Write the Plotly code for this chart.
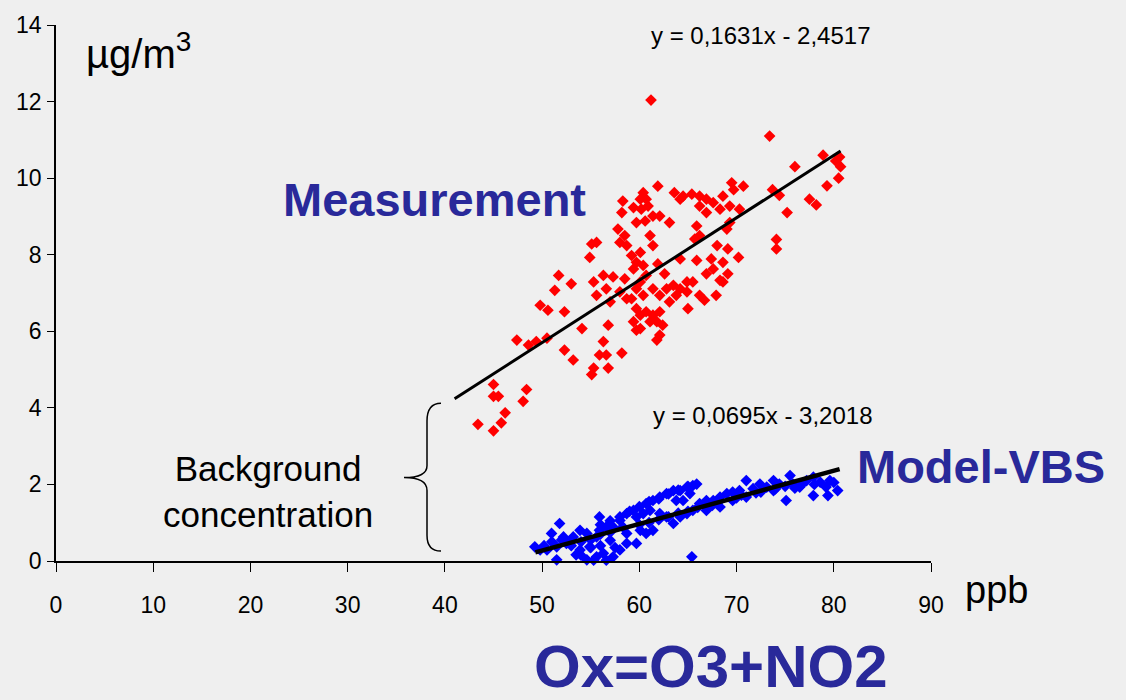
import plotly.graph_objects as go

# ---------------- data ----------------
meas_x = [61.2, 73.4, 78.9, 80.6, 80.7, 80.5, 80.2, 76.0, 79.3, 77.5, 78.2, 75.2, 74.1, 74.1, 73.7, 74.4,
          63.6, 64.5, 65.4, 66.2, 66.9, 67.6, 68.6, 69.5, 69.7, 70.7, 68.3, 66.9, 66.2, 69.3, 70.3, 64.2,
          61.9, 60.4, 60.1, 60.7, 60.9, 60.2, 59.4, 58.3, 58.2, 59.7, 60.6, 61.4, 62.1, 63.1,
          57.8, 58.5, 58.0, 58.7, 61.1, 61.4, 65.9, 66.2, 65.7, 69.0, 69.3, 68.0, 69.1, 70.2, 68.6,
          55.1, 55.6, 54.9, 59.2, 60.1, 59.7, 60.4, 59.4, 60.7, 60.1,
          61.9, 62.6, 64.2, 65.9, 67.4, 67.6, 66.9, 68.6, 69.1, 68.3,
          51.7, 53.0, 51.3, 55.3, 56.3, 57.3, 58.5, 56.6, 55.6, 57.0, 58.0, 58.7,
          59.7, 60.4, 61.4, 62.1, 62.8, 63.5, 64.2, 64.9, 65.5, 63.8, 63.1, 64.9, 66.2,
          66.7, 67.9, 65.0,
          59.2, 59.7, 60.1, 60.7, 61.4, 62.1, 61.8, 62.4, 59.4, 60.1, 61.1, 62.1, 61.8, 59.7,
          49.8, 50.6, 52.3, 54.1, 56.8, 56.3, 56.6, 55.9, 55.3, 55.1, 56.8, 58.2, 52.3, 53.2,
          47.4, 48.6, 49.4, 50.5,
          45.0, 45.0, 45.5, 48.4, 48.05, 46.2, 45.8, 43.4, 45.0]
meas_y = [12.04, 11.1, 10.6, 10.55, 10.3, 10.0, 10.45, 10.3, 9.8, 9.45, 9.3, 9.1, 8.4, 8.15, 9.7, 9.55,
          9.62, 9.53, 9.58, 9.53, 9.45, 9.36, 9.53, 9.88, 9.7, 9.79, 9.19, 9.1, 9.27, 9.27, 9.19, 9.45,
          9.79, 9.62, 9.45, 9.45, 9.27, 9.19, 9.23, 9.40, 9.10, 8.84, 8.88, 9.01, 9.01, 8.84,
          8.67, 8.50, 8.32, 8.24, 8.50, 8.24, 8.75, 8.50, 8.41, 8.67, 8.84, 8.24, 8.15, 7.93, 7.80,
          8.28, 8.32, 7.93, 7.98, 8.06, 7.80, 7.72, 7.63, 7.46, 7.29,
          7.76, 7.50, 7.89, 7.85, 7.89, 7.63, 7.50, 7.29, 7.50, 7.33,
          7.46, 7.24, 7.07, 7.29, 7.46, 7.42, 7.37, 7.11, 6.94, 6.77, 7.03, 6.85,
          7.11, 6.94, 7.11, 6.94, 7.11, 7.20, 7.11, 7.29, 7.29, 6.94, 6.77, 7.03, 6.94,
          6.81, 6.94, 6.59,
          6.85, 6.59, 6.42, 6.51, 6.42, 6.51, 6.25, 6.16, 6.25, 6.07, 6.25, 5.90, 5.77, 6.03,
          6.68, 6.55, 6.51, 6.07, 6.16, 5.73, 5.38, 5.38, 5.04, 4.87, 5.04, 5.43, 5.51, 5.25,
          5.77, 5.64, 5.73, 5.82,
          4.61, 4.30, 4.30, 4.48, 4.17, 3.87, 3.61, 3.57, 3.40]

model_x = [49.25, 50.97, 51.8, 51.5, 55.9, 65.4, 75.1, 77.9, 79.4, 80.4, 79.6, 75.5, 71.0, 76.5,
           65.9, 64.9, 64.2, 65.5,
           53.5, 54.6, 55.3, 56.6, 57.3, 58.0, 58.7, 56.3, 53.9, 52.5, 53.2, 54.6, 55.6, 57.0,
           57.3, 58.0, 58.7, 59.4, 60.1, 60.7, 61.4, 60.7, 61.4, 62.1, 62.8, 63.5,
           62.1, 62.8, 63.5, 64.2, 64.9, 65.5, 66.2, 66.9, 67.6, 68.3, 69.0, 69.6, 70.3,
           71.7, 72.4, 73.1, 73.8, 74.4, 75.8, 77.2, 77.9, 78.6, 68.3, 69.6, 71.0, 66.9,
           59.7, 58.7, 50.5, 51.5, 52.2, 54.9, 55.6, 64.5, 65.2, 63.8, 59.7, 60.4, 61.1,
           58.3, 56.6, 55.9, 53.9, 52.9, 49.8, 73.8, 79.2,
           56.0, 57.0, 58.0, 59.0, 60.0, 61.0, 62.0, 63.0, 64.0, 65.0,
           60.0, 61.0, 62.0, 63.0, 64.0, 65.0, 67.5, 70.0, 72.5, 75.0, 76.0, 78.0, 80.0,
           53.0, 54.0, 55.0, 56.0, 57.0, 54.0, 55.0, 56.0, 57.5,
           66.0, 68.0, 70.5, 72.0, 74.0, 76.8, 50.2, 51.0, 52.0]
model_y = [0.37, 0.72, 0.98, 0.03, 1.15, 0.11, 1.58, 1.71, 1.71, 1.84, 2.10, 2.23, 2.10, 1.93,
           2.01, 1.93, 1.84, 1.97,
           0.16, 0.03, 0.02, 0.02, 0.11, 0.29, 0.46, 0.20, 0.29, 0.46, 0.63, 0.72, 0.63, 0.54,
           0.89, 1.06, 1.24, 1.32, 0.80, 0.72, 0.80, 1.50, 1.58, 1.67, 1.76, 1.84,
           1.24, 1.15, 0.98, 1.15, 1.24, 1.32, 1.50, 1.58, 1.58, 1.67, 1.76, 1.80, 1.84,
           1.89, 2.01, 1.93, 2.10, 2.01, 2.01, 2.10, 2.19, 2.06, 1.41, 1.58, 1.67, 1.32,
           0.46, 0.72, 0.29, 0.37, 0.63, 0.37, 0.11, 1.58, 1.76, 1.58, 1.15, 1.24, 1.32,
           0.89, 0.89, 0.80, 0.80, 0.54, 0.29, 1.84, 1.93,
           0.95, 1.05, 1.15, 1.30, 1.42, 1.55, 1.62, 1.75, 1.85, 1.95,
           0.95, 1.00, 1.08, 1.15, 1.25, 1.30, 1.45, 1.65, 1.80, 1.95, 1.90, 2.00, 2.05,
           0.40, 0.50, 0.55, 0.70, 0.75, 0.15, 0.35, 0.40, 0.35,
           1.40, 1.50, 1.72, 1.78, 1.88, 2.02, 0.40, 0.50, 0.55]

# trend lines (from the equations printed on the chart)
meas_slope, meas_icpt = 0.1631, -2.4517
meas_fit_x = [41.0, 80.7]
model_slope, model_icpt = 0.0695, -3.2018
model_fit_x = [49.3, 80.6]

x_ticks = [0, 10, 20, 30, 40, 50, 60, 70, 80, 90]
y_ticks = [0, 2, 4, 6, 8, 10, 12, 14]

# ---------------- layout helpers ----------------
W, H = 1126, 700
L, R, T, B = 56, 195, 21, 139
PW, PH = W - L - R, H - T - B


def px(xp):
    return (xp - L) / PW


def py(yp):
    return (H - B - yp) / PH


def dx(xp):
    return (xp - L) / PW * 90


def dy(yp):
    return (H - B - yp) / PH * 14


FONT = "Arial, Liberation Sans, sans-serif"
NAVY = "#29299a"

fig = go.Figure()
fig.add_trace(go.Scatter(x=meas_x, y=meas_y, mode="markers",
                         marker=dict(symbol="diamond", size=9, color="#ff0000", line=dict(width=0)),
                         cliponaxis=False, showlegend=False))
fig.add_trace(go.Scatter(x=meas_fit_x, y=[meas_slope * v + meas_icpt for v in meas_fit_x],
                         mode="lines", line=dict(color="black", width=3), showlegend=False))
fig.add_trace(go.Scatter(x=model_x, y=model_y, mode="markers",
                         marker=dict(symbol="diamond", size=9, color="#0000ff", line=dict(width=0)),
                         cliponaxis=False, showlegend=False))
fig.add_trace(go.Scatter(x=model_fit_x, y=[model_slope * v + model_icpt for v in model_fit_x],
                         mode="lines", line=dict(color="black", width=4.5), showlegend=False))

# curly brace
pts = [(441, 402), (427, 402), (427, 420), (427, 465), (427, 477), (404, 477), (427, 477), (427, 490),
       (427, 535), (427, 551), (441, 551)]
c = [(dx(a), dy(b)) for a, b in pts]
path = (f"M {c[0][0]},{c[0][1]} Q {c[1][0]},{c[1][1]} {c[2][0]},{c[2][1]} L {c[3][0]},{c[3][1]} "
        f"Q {c[4][0]},{c[4][1]} {c[5][0]},{c[5][1]} Q {c[6][0]},{c[6][1]} {c[7][0]},{c[7][1]} "
        f"L {c[8][0]},{c[8][1]} Q {c[9][0]},{c[9][1]} {c[10][0]},{c[10][1]}")
fig.add_shape(type="path", path=path, xref="x", yref="y", line=dict(color="black", width=1.5))


def ann(text, xp, yp, size, color="black", bold=False, xanchor="center", yanchor="middle"):
    if bold:
        text = f"<b>{text}</b>"
    fig.add_annotation(text=text, x=px(xp), y=py(yp), xref="paper", yref="paper",
                       showarrow=False, xanchor=xanchor, yanchor=yanchor,
                       font=dict(family=FONT, size=size, color=color))


ann("µg/m<sup>3</sup>", 84, 47, 40, xanchor="left")
ann("y = 0,1631x - 2,4517", 761, 32, 24)
ann("y = 0,0695x - 3,2018", 763, 414, 24)
ann("Measurement", 434, 197, 47, color=NAVY, bold=True)
ann("Model-VBS", 981, 466, 47, color=NAVY, bold=True)
ann("Background<br>concentration", 268, 491, 35)
ann("ppb", 996, 590, 38)
ann("Ox=O3+NO2", 711, 667, 60, color=NAVY, bold=True)

fig.update_layout(
    width=W, height=H, autosize=False,
    margin=dict(l=L, r=R, t=T, b=B),
    paper_bgcolor="#efefef", plot_bgcolor="#efefef",
    font=dict(family=FONT, size=22, color="black"),
    showlegend=False,
)
fig.update_xaxes(range=[0, 90], tickvals=x_ticks, ticks="outside", ticklen=9, tickwidth=1.2,
                 tickcolor="black", showline=True, linecolor="black", linewidth=1.5,
                 showgrid=False, zeroline=False, ticklabelstandoff=14,
                 tickfont=dict(family=FONT, size=23))
fig.update_yaxes(range=[0, 14], tickvals=y_ticks, ticks="outside", ticklen=7, tickwidth=1.2,
                 tickcolor="black", showline=True, linecolor="black", linewidth=1.5,
                 showgrid=False, zeroline=False, ticklabelstandoff=1,
                 tickfont=dict(family=FONT, size=23))

fig.write_html("out.html", config={"displayModeBar": False},
               post_script="document.body.style.margin='0';")
